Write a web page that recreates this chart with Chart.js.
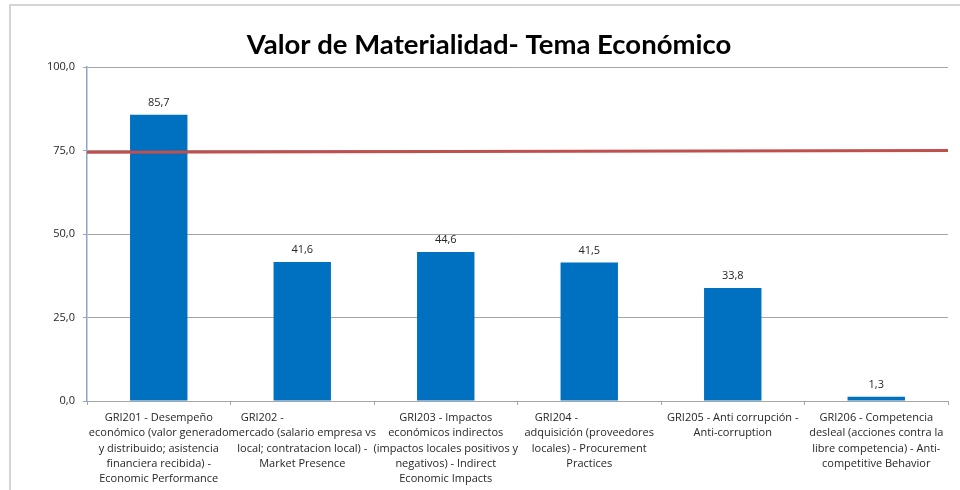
<!DOCTYPE html>
<html>
<head>
<meta charset="utf-8">
<script src="https://cdn.jsdelivr.net/npm/chart.js@4.4.1/dist/chart.umd.min.js"></script>
<style>
  html, body { margin: 0; padding: 0; background: #fff; }
  #wrap { position: relative; width: 960px; height: 490px; overflow: hidden; }
  #frame { position: absolute; left: 9px; top: 4px; width: 1000px; height: 600px; border-left: 2px solid #D4D4D4; border-top: 2px solid #D4D4D4; }
  canvas { position: absolute; left: 0; top: 0; }
</style>
</head>
<body>
<div id="wrap">
  <div id="frame"></div>
  <canvas id="c" width="960" height="490"></canvas>
</div>
<script>
const NB = '\u00A0';
const categories = [
  ["GRI201 - Desempeño", "económico (valor generado", "y distribuido; asistencia", "financiera recibida) -", "Economic Performance"],
  ["GRI202 -" + NB.repeat(28), "mercado (salario empresa vs", "local; contratacion local) -", "Market Presence"],
  ["GRI203 - Impactos", "económicos indirectos", "(impactos locales positivos y", "negativos) - Indirect", "Economic Impacts"],
  ["GRI204 -" + NB.repeat(23), "adquisición (proveedores", "locales) - Procurement", "Practices"],
  ["GRI205 - Anti corrupción -", "Anti-corruption"],
  ["GRI206 - Competencia", "desleal (acciones contra la", "libre competencia) - Anti-", "competitive Behavior"]
];
const values = [85.7, 41.6, 44.6, 41.5, 33.8, 1.3];
const thresholdStart = 74.5;
const thresholdEnd = 75.0;
const yTicks = [0, 25, 50, 75, 100];
const titleText = "Valor de Materialidad- Tema Económico";

const FONT = "'Open Sans', sans-serif";
const TFONT = "Lato, sans-serif";
const fmt = v => v.toFixed(1).replace('.', ',');

const barLabels = {
  id: 'barLabels',
  afterDatasetsDraw(chart) {
    const ctx = chart.ctx;
    const meta = chart.getDatasetMeta(1);
    ctx.save();
    ctx.font = "11px " + FONT;
    ctx.fillStyle = '#262626';
    ctx.textAlign = 'center';
    ctx.textBaseline = 'middle';
    meta.data.forEach((el, i) => {
      ctx.fillText(fmt(values[i]), el.x, el.y - 12);
    });
    ctx.restore();
  }
};

new Chart(document.getElementById('c'), {
  type: 'bar',
  data: {
    labels: categories,
    datasets: [
      {
        type: 'line',
        xAxisID: 'xLine',
        data: [{x: 0, y: thresholdStart}, {x: 1, y: thresholdEnd}],
        borderColor: '#C0504D',
        borderWidth: 3,
        pointRadius: 0,
        order: 0
      },
      {
        type: 'bar',
        xAxisID: 'x',
        data: values,
        backgroundColor: '#0070C0',
        barPercentage: 0.4,
        categoryPercentage: 1.0,
        grouped: false,
        order: 1
      }
    ]
  },
  options: {
    responsive: false,
    animation: false,
    devicePixelRatio: 1,
    layout: { padding: { left: 30, right: 12, top: 0, bottom: 0 } },
    plugins: {
      legend: { display: false },
      tooltip: { enabled: false },
      title: {
        display: true,
        text: titleText,
        color: '#000',
        font: { family: TFONT, size: 27.5, weight: 'bold', lineHeight: 1.2 },
        padding: { top: 28.5, bottom: 5.5 }
      }
    },
    scales: {
      x: {
        type: 'category',
        offset: true,
        grid: { display: true, offset: true, drawOnChartArea: false, tickLength: 4, color: '#A6A6A6' },
        border: { display: true, color: '#A6A6A6', width: 1 },
        ticks: {
          autoSkip: false, maxRotation: 0, minRotation: 0,
          color: '#262626', padding: 5,
          font: { family: FONT, size: 11, lineHeight: 1.4 }
        },
        afterFit(s) { s.height = 89; }
      },
      xLine: {
        type: 'linear', min: 0, max: 1, display: false, offset: false
      },
      y: {
        min: 0, max: 100,
        afterBuildTicks(s) { s.ticks = yTicks.map(v => ({ value: v })); },
        grid: { color: '#A6A6A6', tickColor: '#8EA4C8', tickLength: 4 },
        border: { display: true, color: '#8EA4C8', width: 1.5 },
        ticks: {
          color: '#262626', padding: 8,
          font: { family: FONT, size: 11 },
          callback: v => fmt(v)
        },
        afterFit(s) { s.width = 57; }
      }
    }
  },
  plugins: [barLabels]
});
</script>
</body>
</html>
